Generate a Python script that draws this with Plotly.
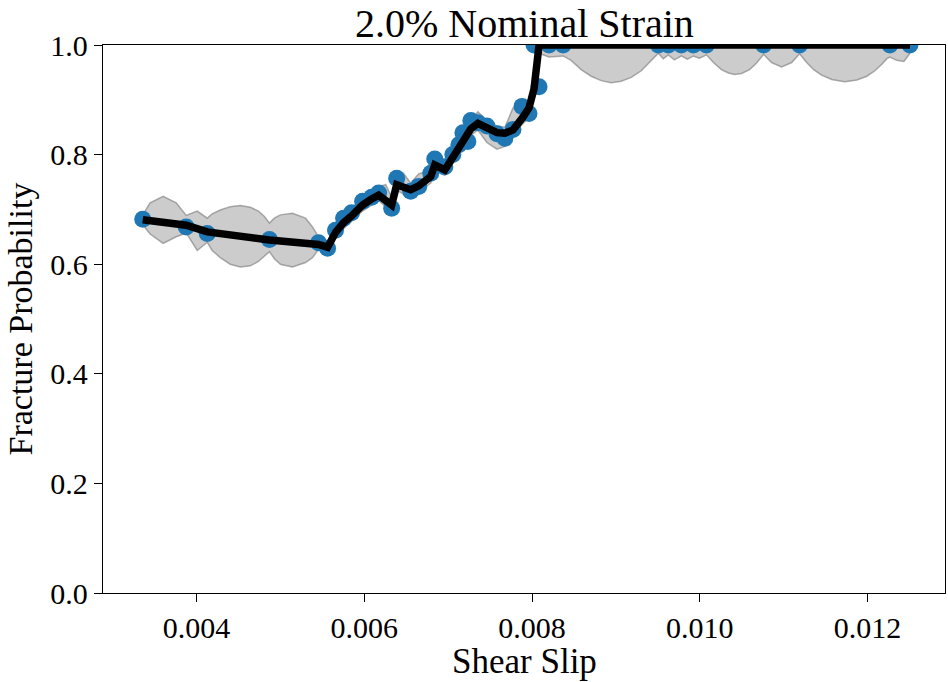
import plotly.graph_objects as go

# observed points (Shear Slip, Fracture Probability)
slip = [0.003360, 0.003878, 0.004129, 0.004870, 0.005455, 0.005563, 0.005658, 0.005754,
        0.005849, 0.005981, 0.006088, 0.006172, 0.006327, 0.006387, 0.006554, 0.006650,
        0.006793, 0.006841, 0.006961, 0.007056, 0.007128, 0.007176, 0.007235, 0.007271,
        0.007355, 0.007462, 0.007582, 0.007677, 0.007773, 0.007881, 0.007964, 0.008024,
        0.008084, 0.008203, 0.008371, 0.009506, 0.009625, 0.009780, 0.009924, 0.010079,
        0.010760, 0.011190, 0.012266, 0.012505]
prob = [0.682, 0.668, 0.656, 0.645, 0.639, 0.629, 0.662, 0.684,
        0.694, 0.715, 0.722, 0.730, 0.702, 0.757, 0.733, 0.742,
        0.766, 0.792, 0.778, 0.800, 0.818, 0.840, 0.824, 0.862,
        0.858, 0.852, 0.838, 0.830, 0.846, 0.888, 0.875, 1.000,
        0.924, 1.000, 1.000, 1.000, 1.000, 1.000, 1.000, 1.000,
        1.000, 1.000, 1.000, 1.000]
# fitted line at the same slips
fit = [0.681, 0.671, 0.659, 0.644, 0.636, 0.631, 0.658, 0.676,
       0.688, 0.708, 0.719, 0.726, 0.708, 0.745, 0.736, 0.743,
       0.760, 0.781, 0.772, 0.795, 0.810, 0.827, 0.838, 0.847,
       0.857, 0.850, 0.840, 0.839, 0.845, 0.866, 0.885, 0.920,
       1.000, 1.000, 1.000, 1.000, 1.000, 1.000, 1.000, 1.000,
       1.000, 1.000, 1.000, 1.000]

# uncertainty band
band_x = [0.003360, 0.003448, 0.003603, 0.003758, 0.003878, 0.004009, 0.004129, 0.004188,
          0.004284, 0.004403, 0.004523, 0.004642, 0.004738, 0.004810, 0.004870, 0.004929,
          0.005001, 0.005144, 0.005300, 0.005383, 0.005455, 0.005563, 0.005658, 0.005754,
          0.005849, 0.005981, 0.006088, 0.006172, 0.006256, 0.006327, 0.006387, 0.006471,
          0.006554, 0.006650, 0.006793, 0.006841, 0.006961, 0.007056, 0.007128, 0.007176,
          0.007235, 0.007271, 0.007355, 0.007462, 0.007582, 0.007677, 0.007773, 0.007881,
          0.007964, 0.008024, 0.008084, 0.008203, 0.008371, 0.008466, 0.008586, 0.008705,
          0.008825, 0.008944, 0.009063, 0.009183, 0.009302, 0.009398, 0.009482, 0.009506,
          0.009565, 0.009625, 0.009697, 0.009780, 0.009852, 0.009924, 0.009996, 0.010079,
          0.010163, 0.010258, 0.010342, 0.010414, 0.010497, 0.010593, 0.010677, 0.010736,
          0.010760, 0.010856, 0.010975, 0.011095, 0.011190, 0.011274, 0.011358, 0.011453,
          0.011573, 0.011728, 0.011872, 0.011991, 0.012087, 0.012170, 0.012230, 0.012266,
          0.012349, 0.012433, 0.012505]
band_lo = [0.672, 0.655, 0.638, 0.650, 0.657, 0.625, 0.640, 0.625,
           0.612, 0.600, 0.595, 0.597, 0.605, 0.615, 0.623, 0.610,
           0.600, 0.595, 0.603, 0.612, 0.627, 0.620, 0.648, 0.665,
           0.678, 0.697, 0.708, 0.716, 0.705, 0.700, 0.735, 0.728,
           0.725, 0.732, 0.748, 0.770, 0.762, 0.784, 0.798, 0.815,
           0.826, 0.835, 0.845, 0.822, 0.810, 0.815, 0.833, 0.855,
           0.868, 0.905, 0.985, 0.978, 0.980, 0.972, 0.955, 0.943,
           0.935, 0.931, 0.934, 0.941, 0.953, 0.968, 0.982, 0.985,
           0.975, 0.982, 0.973, 0.980, 0.974, 0.980, 0.976, 0.982,
           0.968, 0.955, 0.949, 0.946, 0.948, 0.955, 0.967, 0.980,
           0.983, 0.968, 0.960, 0.968, 0.984, 0.968, 0.955, 0.945,
           0.937, 0.933, 0.936, 0.943, 0.953, 0.965, 0.975, 0.978,
           0.972, 0.970, 0.985]
band_hi = [0.690, 0.712, 0.724, 0.712, 0.689, 0.697, 0.684, 0.692,
           0.699, 0.705, 0.707, 0.704, 0.697, 0.687, 0.675, 0.684,
           0.690, 0.693, 0.684, 0.668, 0.650, 0.640, 0.668, 0.688,
           0.700, 0.722, 0.735, 0.742, 0.745, 0.722, 0.760, 0.765,
           0.748, 0.765, 0.772, 0.793, 0.785, 0.807, 0.822, 0.840,
           0.850, 0.862, 0.878, 0.862, 0.852, 0.850, 0.885, 0.894,
           0.892, 0.935, 1.020, 1.030, 1.020, 1.040, 1.050, 1.060,
           1.070, 1.070, 1.070, 1.060, 1.050, 1.040, 1.020, 1.020,
           1.030, 1.020, 1.030, 1.020, 1.030, 1.020, 1.030, 1.020,
           1.040, 1.050, 1.050, 1.060, 1.050, 1.050, 1.040, 1.020,
           1.020, 1.040, 1.040, 1.040, 1.020, 1.040, 1.050, 1.060,
           1.060, 1.070, 1.060, 1.060, 1.050, 1.040, 1.030, 1.020,
           1.030, 1.030, 1.020]

x_ticks = [0.004, 0.006, 0.008, 0.010, 0.012]
x_ticktext = ["0.004", "0.006", "0.008", "0.010", "0.012"]
y_ticks = [0.0, 0.2, 0.4, 0.6, 0.8, 1.0]
y_ticktext = ["0.0", "0.2", "0.4", "0.6", "0.8", "1.0"]

FONT = "Liberation Serif"

FIG_W, FIG_H = 948, 682
M_L, M_R, M_T, M_B = 103, 3, 45, 89
PLOT_W = FIG_W - M_L - M_R
PLOT_H = FIG_H - M_T - M_B

fig = go.Figure()
fig.add_trace(go.Scatter(x=band_x, y=band_hi, mode="lines",
                         line=dict(color="rgba(128,128,128,0.65)", width=1.5),
                         showlegend=False, hoverinfo="skip"))
fig.add_trace(go.Scatter(x=band_x, y=band_lo, mode="lines", fill="tonexty",
                         fillcolor="rgba(128,128,128,0.4)",
                         line=dict(color="rgba(128,128,128,0.65)", width=1.5),
                         showlegend=False, hoverinfo="skip"))
fig.add_trace(go.Scatter(x=slip, y=prob, mode="markers",
                         marker=dict(color="#1f77b4", size=17, line=dict(width=0)),
                         showlegend=False))
fig.add_trace(go.Scatter(x=slip, y=fit, mode="lines",
                         line=dict(color="black", width=7.5),
                         showlegend=False))

axis_common = dict(showline=True, linecolor="black", linewidth=1.3, mirror=True,
                   ticks="outside", ticklen=8, tickwidth=1.3, tickcolor="black",
                   showgrid=False, zeroline=False, automargin=False,
                   tickfont=dict(family=FONT, size=30, color="black"))

fig.update_layout(
    width=FIG_W, height=FIG_H,
    margin=dict(l=M_L, r=M_R, t=M_T, b=M_B, autoexpand=False),
    plot_bgcolor="white", paper_bgcolor="white",
    xaxis=dict(range=[0.002886, 0.012923], tickvals=x_ticks, ticktext=x_ticktext,
               **axis_common),
    yaxis=dict(range=[0, 1], tickvals=y_ticks, ticktext=y_ticktext,
               **axis_common),
)
fig.add_annotation(text="2.0% Nominal Strain", xref="paper", x=0.5, xanchor="center",
                   yref="paper", y=1 + M_T / PLOT_H, yanchor="top", showarrow=False,
                   borderpad=0, font=dict(family=FONT, size=40, color="black"))
fig.add_annotation(text="Shear Slip", xref="paper", x=0.5, xanchor="center",
                   yref="paper", y=-M_B / PLOT_H, yanchor="bottom", showarrow=False,
                   borderpad=0, font=dict(family=FONT, size=35, color="black"))
fig.add_annotation(text="Fracture Probability", xref="paper", x=-M_L / PLOT_W,
                   xanchor="left", yref="paper", y=0.5, yanchor="middle",
                   textangle=-90, showarrow=False, borderpad=0,
                   font=dict(family=FONT, size=34, color="black"))

fig.write_html("out.html", config={"displayModeBar": False},
               post_script="document.body.style.margin='0px';")
